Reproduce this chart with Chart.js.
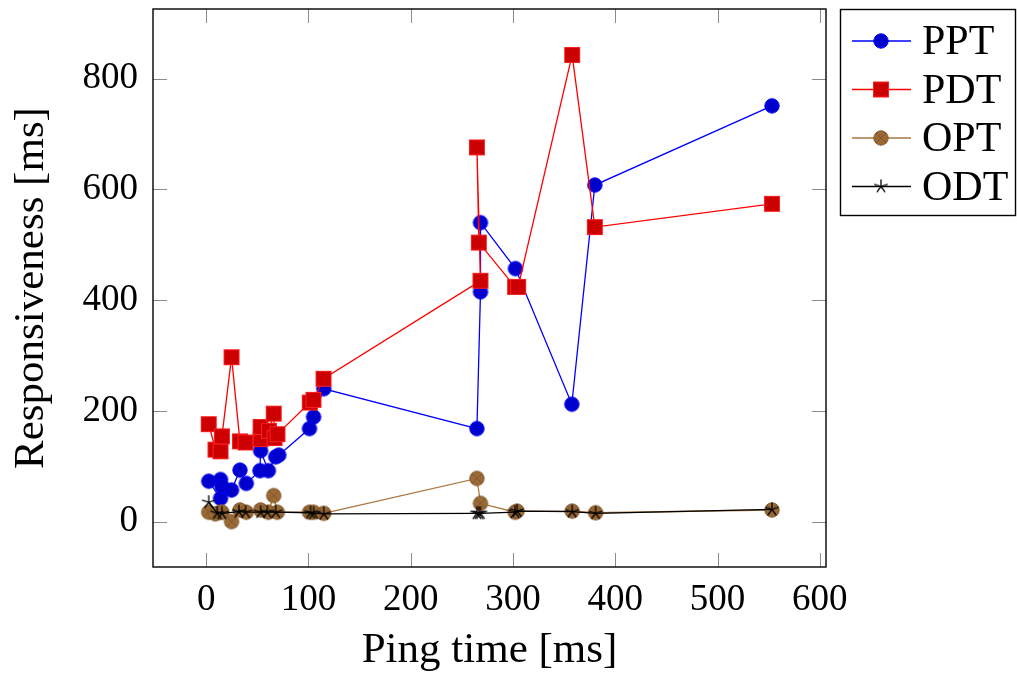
<!DOCTYPE html>
<html lang="en">
<head>
<meta charset="UTF-8">
<title>Responsiveness vs ping time</title>
<script src="https://cdn.jsdelivr.net/npm/chart.js@4.4.1/dist/chart.umd.min.js"></script>
<style>
  html, body { margin: 0; padding: 0; background: #fff; }
  #wrap { width: 1017px; height: 677px; }
</style>
</head>
<body>
<div id="wrap"><canvas id="chart" width="1017" height="677"></canvas></div>
<script>
// values (ping time, responsiveness)
const pptX = [2.5, 14, 14, 15.4, 24.8, 33, 39.2, 52.5, 53.2, 60.8, 68, 71, 101, 105, 115, 264.7, 268.2, 268.2, 302.3, 357.5, 380, 553.2];
const pptY = [73, 42, 76, 64, 57, 93, 69, 92, 128, 92, 117, 120, 168, 189, 240, 168, 415, 540, 457, 212, 608, 751];

const pdtX = [2.5, 9.1, 14, 15.4, 24.8, 33, 38.5, 53.2, 53.2, 61.4, 66, 66.8, 69.7, 101.3, 104.9, 114.7, 268.2, 264.7, 266.6, 302, 305, 357.8, 380, 553.2];
const pdtY = [176, 130, 127, 154, 297, 145, 143, 149, 171, 164, 195, 151, 158, 215, 220, 258, 435, 676, 504, 424, 424, 843, 532, 574];

const optX = [2.5, 9, 14, 15.4, 24.8, 33, 39.2, 53.2, 60.8, 66, 69.6, 101, 105, 115, 264.7, 268.2, 302, 304, 357.8, 380.7, 553.2];
const optY = [17, 14, 17, 17, 0, 21, 17, 21, 17, 47, 17, 17, 17, 15, 78, 33, 17, 19, 19, 16, 21];

const odtX = [2.5, 10.8, 15.4, 32, 38.5, 53.2, 59.8, 68, 102, 105, 115, 264.7, 266.6, 268.2, 302, 304, 357.8, 380.7, 553.2];
const odtY = [35, 15, 15, 18, 17, 17, 17, 17, 16, 15, 14, 15, 15, 15, 17, 19, 18, 15, 22];

const seriesNames = ['PPT', 'PDT', 'OPT', 'ODT'];
const xTicks = [0, 100, 200, 300, 400, 500, 600];
const yTicks = [0, 200, 400, 600, 800];

const serif = "'Liberation Serif', 'DejaVu Serif', serif";

function pairs(xs, ys) {
    return xs.map(function (x, i) { return { x: x, y: ys[i] }; });
}

// little canvases used as point styles, so the legend can reuse them
function marker(kind) {
    const c = document.createElement('canvas');
    c.width = 20;
    c.height = 20;
    const g = c.getContext('2d');
    g.translate(10, 10);
    g.lineWidth = 1;
    if (kind === 'circle') {
        g.beginPath();
        g.arc(0, 0, 7.2, 0, Math.PI * 2);
        g.fillStyle = '#0000cc';
        g.fill();
        g.strokeStyle = '#0000ff';
        g.stroke();
    } else if (kind === 'square') {
        g.fillStyle = '#cc0000';
        g.fillRect(-7.5, -7.5, 15, 15);
        g.strokeStyle = '#ff2020';
        g.strokeRect(-7.5, -7.5, 15, 15);
    } else if (kind === 'otimes') {
        g.beginPath();
        g.arc(0, 0, 7.2, 0, Math.PI * 2);
        g.fillStyle = '#9a6934';
        g.fill();
        g.strokeStyle = '#80592e';
        g.stroke();
        const d = 7.2 * Math.SQRT1_2;
        g.beginPath();
        g.moveTo(-d, -d); g.lineTo(d, d);
        g.moveTo(-d, d); g.lineTo(d, -d);
        g.stroke();
    } else if (kind === 'star') {
        g.strokeStyle = '#000';
        g.lineWidth = 1.3;
        g.beginPath();
        for (let k = 0; k < 5; k++) {
            const a = -Math.PI / 2 + k * 2 * Math.PI / 5;
            g.moveTo(0, 0);
            g.lineTo(7 * Math.cos(a), 7 * Math.sin(a));
        }
        g.stroke();
    }
    return c;
}

// inward tick marks and the black frame, pgfplots style
const frame = {
    id: 'frame',
    afterDatasetsDraw(chart) {
        const ctx = chart.ctx;
        const a = chart.chartArea;
        const xs = chart.scales.x, ys = chart.scales.y;
        ctx.save();
        ctx.strokeStyle = '#8c8c8c';
        ctx.lineWidth = 1;
        ctx.beginPath();
        xTicks.forEach(function (v) {
            const p = Math.round(xs.getPixelForValue(v)) + 0.5;
            ctx.moveTo(p, a.bottom); ctx.lineTo(p, a.bottom - 14);
            ctx.moveTo(p, a.top); ctx.lineTo(p, a.top + 14);
        });
        yTicks.forEach(function (v) {
            const p = Math.round(ys.getPixelForValue(v)) + 0.5;
            ctx.moveTo(a.left, p); ctx.lineTo(a.left + 14, p);
            ctx.moveTo(a.right, p); ctx.lineTo(a.right - 14, p);
        });
        ctx.stroke();
        ctx.strokeStyle = '#000';
        ctx.lineWidth = 1.4;
        ctx.strokeRect(a.left, a.top, a.right - a.left, a.bottom - a.top);
        ctx.restore();
    }
};

// boxed legend outside the plot on the right
const boxLegend = {
    id: 'boxLegend',
    afterDraw(chart) {
        const ctx = chart.ctx;
        ctx.save();
        ctx.fillStyle = '#fff';
        ctx.fillRect(840, 9, 176, 206);
        ctx.strokeStyle = '#000';
        ctx.lineWidth = 1.4;
        ctx.strokeRect(840.5, 9.5, 175, 206);
        ctx.font = '42px ' + serif;
        ctx.textBaseline = 'middle';
        ctx.fillStyle = '#000';
        chart.data.datasets.forEach(function (ds, i) {
            const y = 41 + i * 48.5;
            ctx.strokeStyle = ds.borderColor;
            ctx.lineWidth = ds.borderWidth;
            ctx.beginPath();
            ctx.moveTo(852, y);
            ctx.lineTo(911, y);
            ctx.stroke();
            const img = ds.pointStyle;
            ctx.drawImage(img, 881 - img.width / 2, y - img.height / 2);
            ctx.fillText(ds.label, 922, y + 2);
        });
        ctx.restore();
    }
};

const styles = [
    { color: '#0000ff', mark: marker('circle'), order: 4 },
    { color: '#ff0000', mark: marker('square'), order: 3 },
    { color: '#a8763e', mark: marker('otimes'), order: 2 },
    { color: '#000000', mark: marker('star'), order: 1 }
];
const values = [pairs(pptX, pptY), pairs(pdtX, pdtY), pairs(optX, optY), pairs(odtX, odtY)];

const chart = new Chart(document.getElementById('chart'), {
    type: 'scatter',
    data: {
        datasets: seriesNames.map(function (name, i) {
            return {
                label: name,
                data: values[i],
                showLine: true,
                borderColor: styles[i].color,
                borderWidth: 1.3,
                pointStyle: styles[i].mark,
                order: styles[i].order,
                tension: 0
            };
        })
    },
    options: {
        responsive: false,
        animation: false,
        layout: { padding: { left: 0, top: 9, right: 191, bottom: 0 } },
        plugins: {
            legend: { display: false },
            tooltip: { enabled: false }
        },
        scales: {
            x: {
                type: 'linear',
                min: -52,
                max: 606,
                grid: { display: false, drawTicks: false },
                border: { display: false },
                afterBuildTicks: function (s) { s.ticks = xTicks.map(function (v) { return { value: v }; }); },
                afterFit: function (s) { s.height = 110; s.paddingLeft = 0; s.paddingRight = 0; },
                ticks: { color: '#000', font: { family: serif, size: 37 }, padding: 11, maxRotation: 0 },
                title: { display: true, text: 'Ping time [ms]', color: '#000', font: { family: serif, size: 43 }, padding: { top: 2, bottom: 0 } }
            },
            y: {
                type: 'linear',
                min: -82,
                max: 926,
                grid: { display: false, drawTicks: false },
                border: { display: false },
                afterBuildTicks: function (s) { s.ticks = yTicks.map(function (v) { return { value: v }; }); },
                afterFit: function (s) { s.width = 153; s.paddingTop = 0; s.paddingBottom = 0; },
                ticks: { color: '#000', font: { family: serif, size: 37 }, padding: 15 },
                title: { display: true, text: 'Responsiveness [ms]', color: '#000', font: { family: serif, size: 43 }, padding: { top: 6, bottom: 0 } }
            }
        }
    },
    plugins: [frame, boxLegend]
});
</script>
</body>
</html>
